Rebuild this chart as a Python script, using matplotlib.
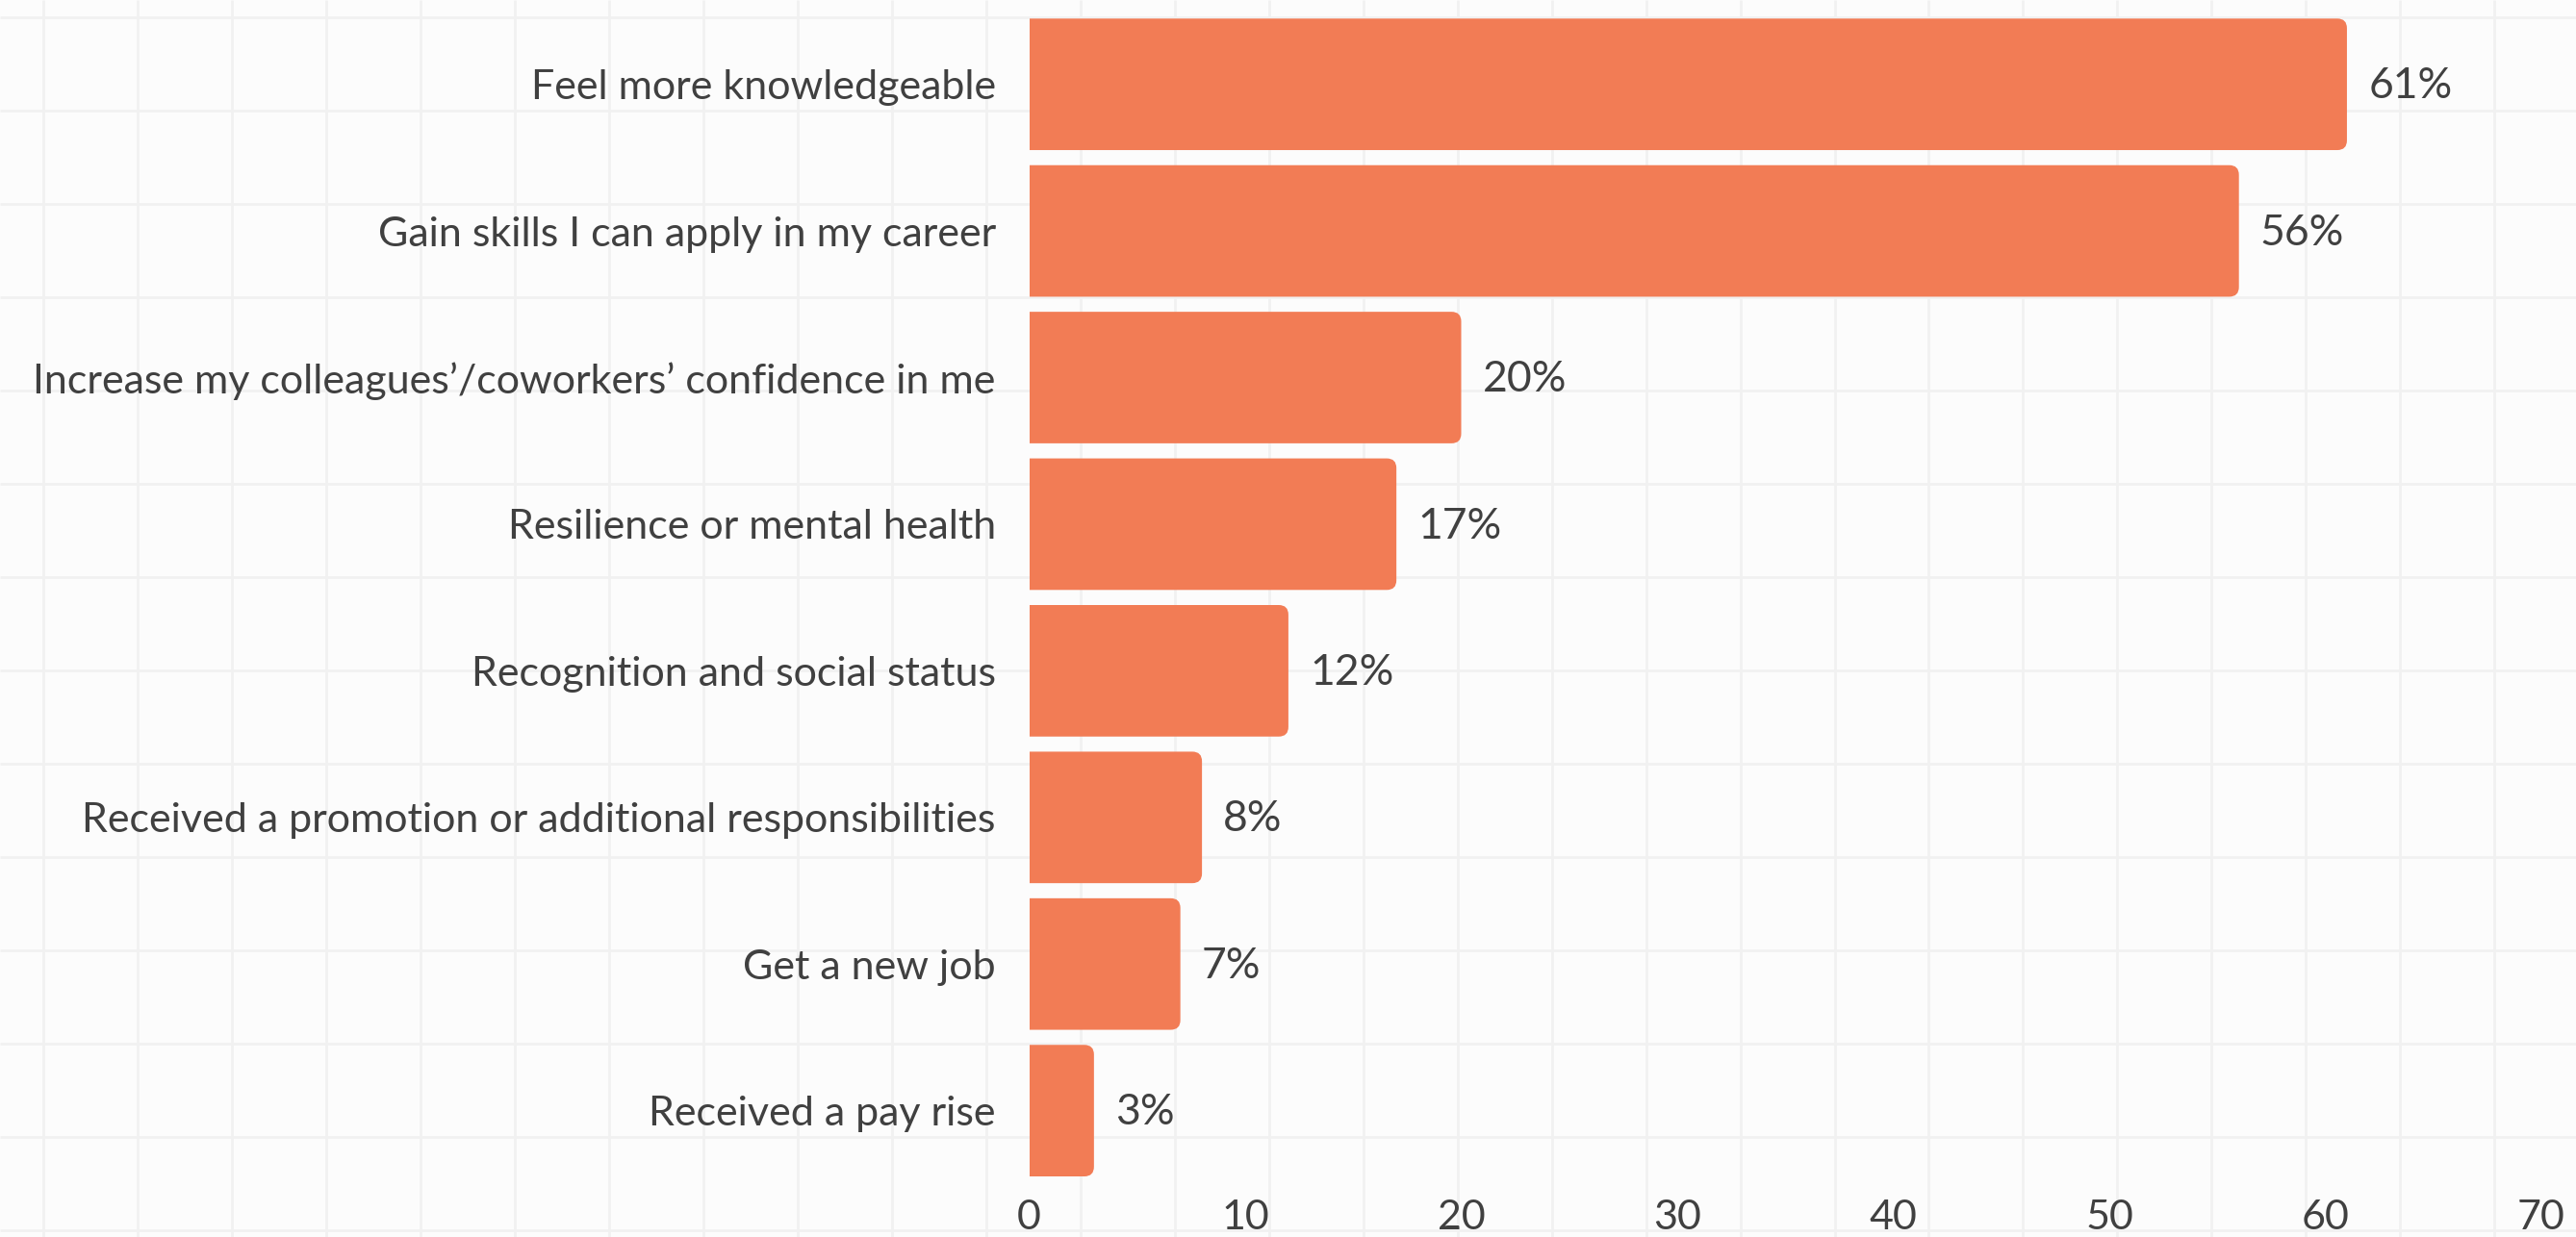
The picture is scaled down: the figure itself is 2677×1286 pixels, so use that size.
import numpy as np
import matplotlib.pyplot as plt
from matplotlib.patches import FancyBboxPatch

# data
categories = [
    "Feel more knowledgeable",
    "Gain skills I can apply in my career",
    "Increase my colleagues\u2019/coworkers\u2019 confidence in me",
    "Resilience or mental health",
    "Recognition and social status",
    "Received a promotion or additional responsibilities",
    "Get a new job",
    "Received a pay rise",
]
values = [61, 56, 20, 17, 12, 8, 7, 3]
x_ticks = [0, 10, 20, 30, 40, 50, 60, 70]

W, H, DPI = 2677, 1286, 100
bar_color = "#F27C55"
text_color = "#404040"
bg_color = "#fcfcfc"
grid_color = "#f1f1f1"

plt.rcParams['font.family'] = ['Lato', 'DejaVu Sans']

fig = plt.figure(figsize=(W / DPI, H / DPI), dpi=DPI, facecolor=bg_color)

# graph-paper background over the whole figure
bg = fig.add_axes([0, 0, 1, 1], zorder=0)
bg.set_facecolor(bg_color)
bg.set_xlim(0, W)
bg.set_ylim(H, 0)
bg.vlines(np.arange(45.3, W, 97.96), 0, H, color=grid_color, lw=1.9)
bg.hlines(np.arange(18.3, H, 96.95), 0, W, color=grid_color, lw=1.9)
bg.axis('off')

ax = fig.add_axes([1069.5 / W, 1 - 1223 / H, (2641 - 1069.5) / W, (1223 - 19.3) / H], zorder=1)
ax.set_facecolor('none')

y = np.arange(len(categories))
bar_h = 0.897
bars = ax.barh(y, values, height=bar_h, color=bar_color)
ax.set_xlim(0, 70)
ax.set_ylim(len(categories) - 1 + bar_h / 2, -bar_h / 2)

# round the right-hand corners; the left end is pushed past 0 and clipped square by the axes
px_x = (2641 - 1069.5) / 70
px_y = (1223 - 19.3) / (len(categories) - 1 + bar_h)
r = 10 / px_x
aspect = (10 / px_y) / r
for b in bars:
    x0, y0, w, h = b.get_x(), b.get_y(), b.get_width(), b.get_height()
    b.set_visible(False)
    ax.add_patch(FancyBboxPatch((x0 - 3 * r, y0), w + 3 * r, h,
                                boxstyle=f"round,pad=0,rounding_size={r}",
                                mutation_aspect=aspect, fc=bar_color, ec='none'))

for i, v in enumerate(values):
    ax.annotate(f"{v}%", (v, i), xytext=(16, -1.5), textcoords='offset points',
                ha='left', va='center', fontsize=32, color=text_color)

ax.set_yticks(y)
ax.set_yticklabels(categories)
ax.set_xticks(x_ticks)
ax.tick_params(axis='y', length=0, pad=25, labelsize=31, labelcolor=text_color)
ax.tick_params(axis='x', length=0, pad=17, labelsize=31, labelcolor=text_color)
for s in ax.spines.values():
    s.set_visible(False)

fig.savefig("out.png", dpi=DPI, facecolor=bg_color)
